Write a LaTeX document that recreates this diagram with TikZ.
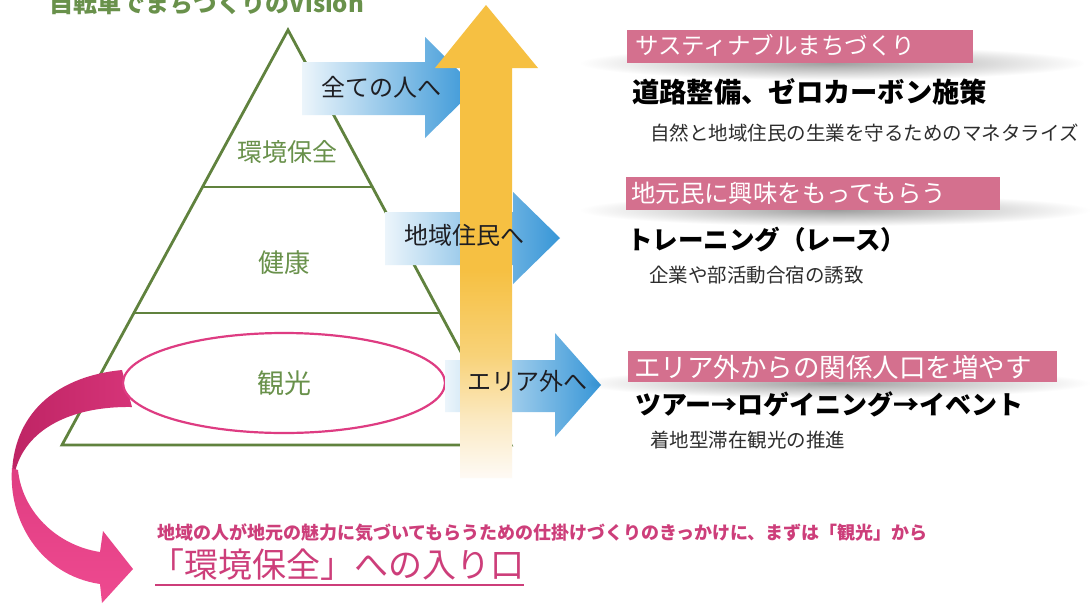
\documentclass[tikz,border=0pt]{standalone}
\usepackage{fontspec}
\newfontfamily\jp{Noto Sans CJK JP}
\usetikzlibrary{fadings}
\definecolor{grn}{RGB}{96,130,62}
\definecolor{grntxt}{RGB}{105,145,75}
\definecolor{pinkbox}{RGB}{212,112,142}
\definecolor{ellpink}{RGB}{222,60,130}
\definecolor{magdark}{RGB}{190,36,100}
\definecolor{magmid}{RGB}{214,52,120}
\definecolor{maglight}{RGB}{238,74,144}
\definecolor{bluearr}{RGB}{55,150,215}
\definecolor{bluepale}{RGB}{236,245,251}
\definecolor{yel}{RGB}{246,192,66}
\definecolor{yelmid}{RGB}{248,210,120}
\definecolor{yelpale}{RGB}{251,234,196}
\definecolor{yelwhite}{RGB}{254,250,245}
\definecolor{txtpink}{RGB}{205,62,122}
\definecolor{darktxt}{RGB}{30,30,35}
\definecolor{graytxt}{RGB}{45,45,45}
\pgfdeclareverticalshading{yelfade}{100bp}{color(0bp)=(yelwhite); color(25bp)=(yelwhite); color(31bp)=(yelpale); color(38bp)=(yelmid); color(47bp)=(yel); color(100bp)=(yel)}
\tikzfading[name=softblob, inner color=transparent!62, outer color=transparent!100]
\tikzset{
  pyr/.style={draw=grn, line width=2.8pt, line join=miter},
  pyrlabel/.style={text=grntxt, inner sep=0pt},
  bluearrow/.style={left color=bluepale, right color=bluearr, draw=none},
  bluelabel/.style={text=darktxt, inner sep=0pt, font=\jp\fontsize{24}{28}\selectfont},
  pinkrect/.style={fill=pinkbox, draw=none},
  boxlabel/.style={text=white, anchor=west, inner sep=0pt},
  bigtxt/.style={text=black, anchor=west, inner sep=0pt},
  smalltxt/.style={text=graytxt, anchor=west, inner sep=0pt, font=\jp\fontsize{19.5}{23}\selectfont},
  shadowblob/.style={fill=black, path fading=softblob, draw=none}
}
\begin{document}
\begin{tikzpicture}[x=1pt,y=1pt]
\useasboundingbox (0,0) rectangle (1090,-603);
\fill[white] (0,0) rectangle (1090,-603);

% title (cut at top, as in the reference)
\node[text=grntxt, anchor=base, inner sep=0pt, font=\jp\bfseries\fontsize{24}{28}\selectfont] (title) at (207,-12) {自転車でまちづくりのVision};

% pyramid
\coordinate (apex) at (288,-30);
\coordinate (bl) at (62,-445);
\coordinate (br) at (511,-445);
\draw[pyr] (apex) -- (bl) -- (br) -- cycle;
\draw[pyr] (202.5,-187) -- (372.5,-187);
\draw[pyr] (134,-313) -- (440,-313);

% pink curved ribbon arrow
\shade[left color=magdark, right color=magmid] (122,-370) .. controls (60,-376) and (15,-410) .. (12,-472) -- (15,-472) .. controls (25,-430) and (70,-406) .. (132,-407) -- cycle;
\shade[top color=magmid!60!maglight, bottom color=maglight] (12,-468) .. controls (8,-520) and (40,-575) .. (100,-584) -- (102,-603) -- (133,-569) -- (103,-531) -- (100,-552) .. controls (55,-545) and (22,-510) .. (18,-470) -- cycle;

% ellipse
\draw[ellpink, fill=white, line width=2.2pt] (284,-383) ellipse [x radius=161, y radius=50];

% blue arrows
\shade[bluearrow] (302,-62) -- (425,-62) -- (425,-37) -- (476,-88) -- (425,-138) -- (425,-115) -- (302,-115) -- cycle;
\shade[bluearrow] (385,-212) -- (513,-212) -- (513,-192) -- (560,-238) -- (513,-284) -- (513,-265) -- (385,-265) -- cycle;
\shade[bluearrow] (445,-360) -- (555,-360) -- (555,-333) -- (601,-385) -- (555,-437) -- (555,-412) -- (445,-412) -- cycle;

% yellow arrow
\shade[shading=yelfade] (460,-478) -- (460,-68) -- (435,-68) -- (486,-5) -- (538,-68) -- (512,-68) -- (512,-478) -- cycle;

% pink boxes with soft shadows
\fill[shadowblob] (580,-46) rectangle (1085,-80);
\fill[pinkrect] (627,-30) rectangle (973,-63);
\fill[shadowblob] (580,-194) rectangle (1090,-226);
\fill[pinkrect] (626,-177) rectangle (1000,-210);
\fill[shadowblob] (580,-368) rectangle (1090,-398);
\fill[pinkrect] (628,-351) rectangle (1057,-382);

% pyramid labels
\node[pyrlabel, font=\jp\fontsize{25}{30}\selectfont] (lk) at (287,-152) {環境保全};
\node[pyrlabel, font=\jp\fontsize{26}{30}\selectfont] (lh) at (284,-263) {健康};
\node[pyrlabel, font=\jp\fontsize{27}{30}\selectfont] (lt) at (284,-383) {観光};

% blue arrow labels
\node[bluelabel] (a1) at (381,-87) {全ての人へ};
\node[bluelabel] (a2) at (464,-235) {地域住民へ};
\node[bluelabel] (a3) at (527,-381) {エリア外へ};

% right texts
\node[boxlabel, font=\jp\fontsize{23.5}{28}\selectfont] (b1) at (635,-45) {サスティナブルまちづくり};
\node[bigtxt, font=\jp\bfseries\fontsize{27.3}{32}\selectfont] (g1) at (632,-92) {道路整備、ゼロカーボン施策};
\node[smalltxt] (s1) at (650,-133) {自然と地域住民の生業を守るためのマネタライズ};

\node[boxlabel, font=\jp\fontsize{24.4}{28}\selectfont] (b2) at (631,-193) {地元民に興味をもってもらう};
\node[bigtxt, font=\jp\bfseries\fontsize{25.5}{30}\selectfont] (g2) at (627,-240) {トレーニング（レース）};
\node[smalltxt] (s2) at (649,-275) {企業や部活動合宿の誘致};

\node[boxlabel, font=\jp\fontsize{26.5}{30}\selectfont] (b3) at (634,-367) {エリア外からの関係人口を増やす};
\node[bigtxt, font=\jp\bfseries\fontsize{26}{30}\selectfont] (g3) at (635,-404) {ツアー→ロゲイニング→イベント};
\node[smalltxt] (s3) at (650,-440) {着地型滞在観光の推進};

% bottom texts
\node[text=txtpink, anchor=west, inner sep=0pt, font=\jp\bfseries\fontsize{18}{22}\selectfont] (bt1) at (157,-533) {地域の人が地元の魅力に気づいてもらうための仕掛けづくりのきっかけに、まずは「観光」から};
\node[text=txtpink, anchor=west, inner sep=0pt, font=\jp\fontsize{34}{38}\selectfont] (bt2) at (150,-565) {「環境保全」への入り口};
\draw[txtpink, line width=1.6pt] (155,-585) -- (bt2.east |- 0,-585);
\end{tikzpicture}
\end{document}
